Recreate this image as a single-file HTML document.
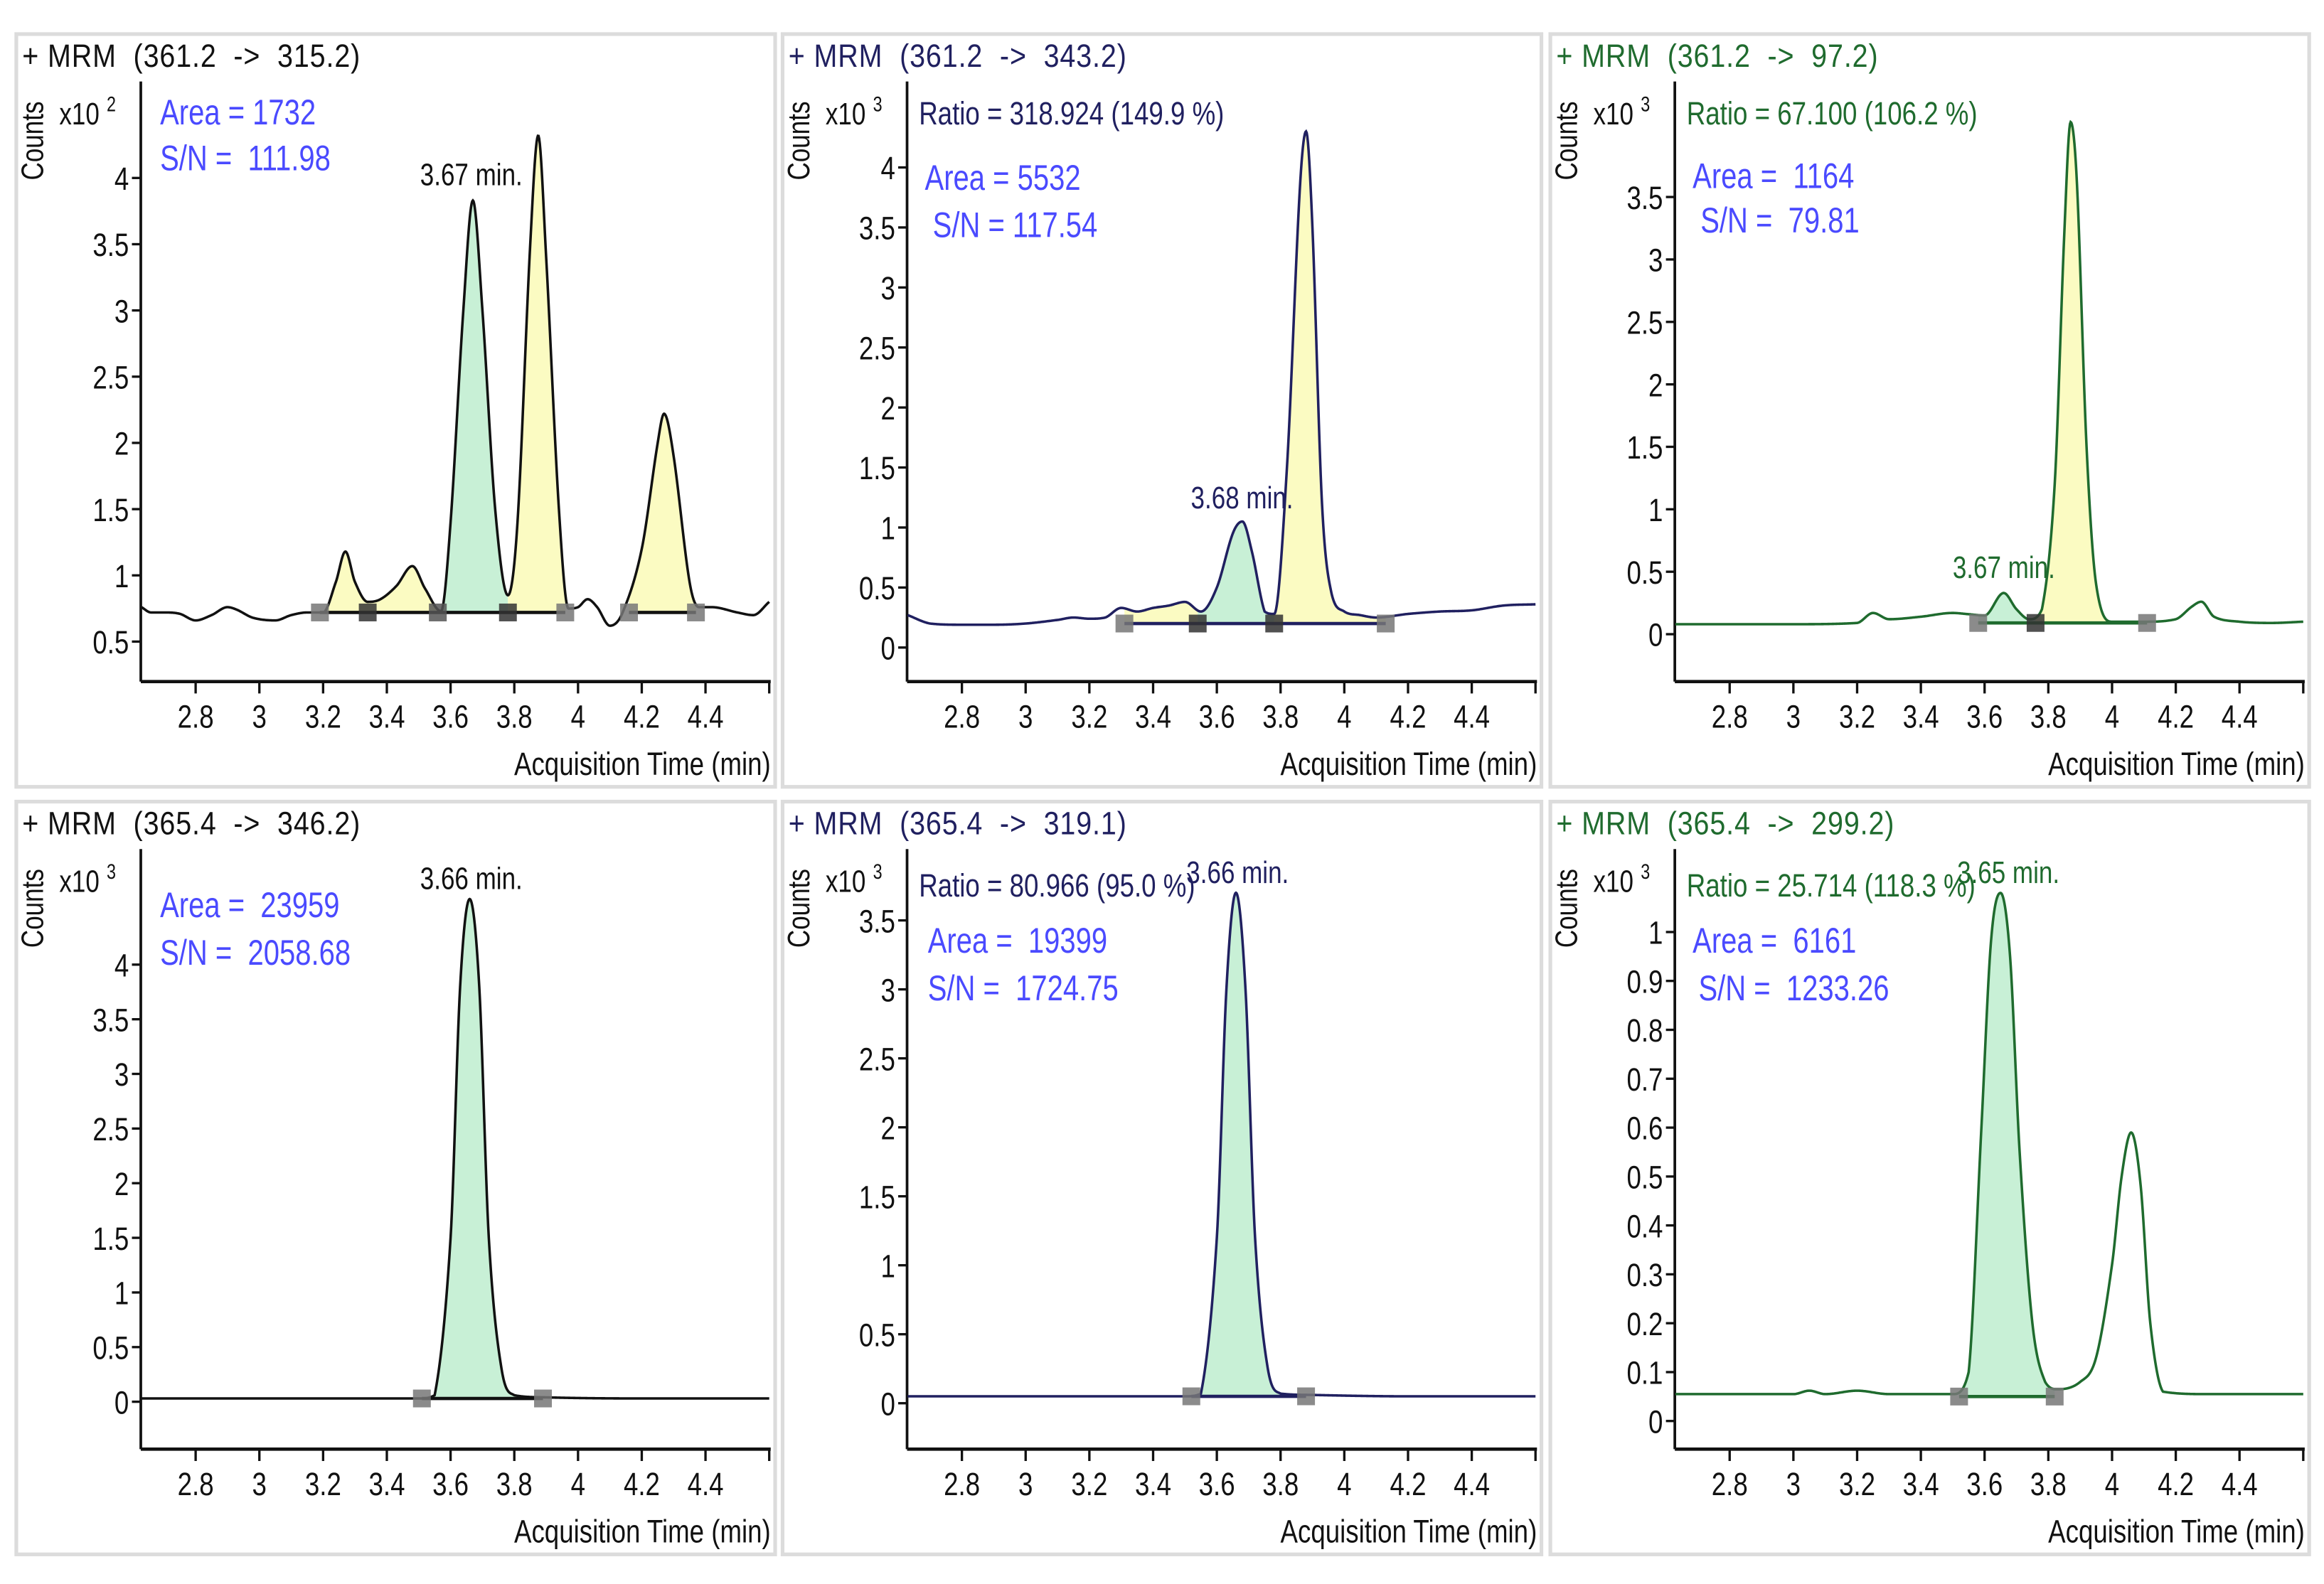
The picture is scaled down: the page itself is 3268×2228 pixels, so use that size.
<!DOCTYPE html>
<html><head><meta charset="utf-8">
<style>
html,body{margin:0;padding:0;background:#fff;}
svg{display:block;}
text{font-family:"Liberation Sans",sans-serif;white-space:pre;}
</style></head>
<body>
<svg id="chart" width="3268" height="2228" viewBox="0 0 1568 1069" xmlns="http://www.w3.org/2000/svg">
<rect x="0" y="0" width="1568" height="1069" fill="#fff"/>
</svg>
<script>
// ---- data (times in min, values in display units) ----
const xTicks = [2.8, 3, 3.2, 3.4, 3.6, 3.8, 4, 4.2, 4.4];
const xTickLabels = ["2.8","3","3.2","3.4","3.6","3.8","4","4.2","4.4"];

const p1Times = [2.63,2.66,2.7,2.75,2.8,2.85,2.9,2.93,2.98,3.05,3.1,3.15,3.2,3.24,3.27,3.3,3.34,3.38,3.43,3.48,3.52,3.57,3.6,3.64,3.67,3.7,3.74,3.78,3.81,3.85,3.875,3.9,3.94,3.97,4.0,4.03,4.06,4.1,4.14,4.2,4.25,4.27,4.3,4.35,4.38,4.42,4.5,4.55,4.6];
const p1Vals  = [0.76,0.72,0.72,0.71,0.66,0.70,0.76,0.74,0.68,0.66,0.70,0.72,0.72,0.95,1.18,0.95,0.80,0.82,0.92,1.07,0.90,0.73,1.4,3.0,3.83,3.0,1.5,0.85,1.4,3.5,4.32,3.4,1.5,0.75,0.76,0.82,0.76,0.62,0.72,1.2,2.0,2.22,1.9,0.95,0.76,0.76,0.72,0.70,0.80];
const p1Yticks = [0.5,1,1.5,2,2.5,3,3.5,4];
const p1Marks = [3.19,3.34,3.56,3.78,3.96,4.16,4.37];

const p2Times = [2.63,2.7,2.8,2.9,3.0,3.1,3.15,3.2,3.25,3.3,3.35,3.4,3.45,3.5,3.55,3.6,3.65,3.68,3.71,3.75,3.78,3.82,3.86,3.88,3.9,3.93,3.96,4.0,4.05,4.1,4.2,4.3,4.4,4.5,4.6];
const p2Vals  = [0.27,0.2,0.19,0.19,0.2,0.23,0.25,0.24,0.25,0.33,0.3,0.33,0.35,0.38,0.3,0.5,0.95,1.05,0.8,0.3,0.28,1.5,3.8,4.3,3.5,1.2,0.45,0.3,0.27,0.25,0.28,0.3,0.31,0.35,0.36];
const p2Yticks = [0,0.5,1,1.5,2,2.5,3,3.5,4];
const p2Marks = [3.31,3.54,3.78,4.13];

const p3Times = [2.63,2.8,3.0,3.2,3.25,3.3,3.4,3.5,3.55,3.6,3.66,3.7,3.74,3.78,3.82,3.85,3.87,3.89,3.92,3.95,4.0,4.1,4.2,4.25,4.28,4.32,4.4,4.5,4.6];
const p3Vals  = [0.08,0.08,0.08,0.09,0.17,0.12,0.14,0.17,0.16,0.15,0.33,0.2,0.12,0.2,1.2,3.2,4.1,3.6,1.5,0.4,0.1,0.1,0.12,0.22,0.26,0.14,0.1,0.09,0.1];
const p3Yticks = [0,0.5,1,1.5,2,2.5,3,3.5];
const p3Marks = [3.58,3.76,4.11];

const p4Times = [2.63,3.0,3.3,3.5,3.55,3.6,3.63,3.66,3.69,3.72,3.76,3.8,3.9,4.2,4.6];
const p4Vals  = [0.03,0.03,0.03,0.03,0.06,1.5,3.8,4.6,3.8,1.5,0.3,0.06,0.04,0.03,0.03];
const p4Yticks = [0,0.5,1,1.5,2,2.5,3,3.5,4];
const p4Marks = [3.51,3.89];

const p5Times = [2.63,3.0,3.3,3.5,3.55,3.6,3.63,3.66,3.69,3.72,3.76,3.8,3.9,4.2,4.6];
const p5Vals  = [0.05,0.05,0.05,0.05,0.07,1.2,3.0,3.7,3.0,1.2,0.25,0.07,0.06,0.05,0.05];
const p5Yticks = [0,0.5,1,1.5,2,2.5,3,3.5];
const p5Marks = [3.52,3.88];

const p6Times = [2.63,2.8,3.0,3.05,3.1,3.2,3.3,3.5,3.55,3.59,3.62,3.65,3.68,3.71,3.75,3.79,3.83,3.9,3.95,4.0,4.03,4.06,4.09,4.12,4.16,4.3,4.6];
const p6Vals  = [0.055,0.055,0.055,0.062,0.055,0.062,0.055,0.055,0.1,0.6,0.98,1.08,0.95,0.55,0.2,0.08,0.065,0.08,0.13,0.32,0.5,0.59,0.48,0.2,0.06,0.055,0.055];
const p6Yticks = [0,0.1,0.2,0.3,0.4,0.5,0.6,0.7,0.8,0.9,1];
const p6Marks = [3.52,3.82];

const NS = "http://www.w3.org/2000/svg";
const svg = document.getElementById('chart');
const SX = 0.8;
function mk(tag, attrs, parent){ const e=document.createElementNS(NS,tag); for(const k in attrs) e.setAttribute(k,attrs[k]); (parent||svg).appendChild(e); return e; }
function txt(s, attrs, parent, sx){
  const x=attrs.x, y=attrs.y; const a=Object.assign({},attrs); delete a.x; delete a.y;
  a.transform=`translate(${x},${y}) scale(${sx||SX},1)`;
  const e=mk('text',a,parent); e.textContent=s; return e;
}

function interp(ts, vs, t){
  if(t<=ts[0]) return vs[0];
  if(t>=ts[ts.length-1]) return vs[vs.length-1];
  let i=0; while(ts[i+1]<t) i++;
  const t0=ts[i],t1=ts[i+1],v0=vs[i],v1=vs[i+1],h=t1-t0;
  const d = (v1-v0)/h;
  const dp = i>0 ? (v0-vs[i-1])/(t0-ts[i-1]) : d;
  const dn = i+2<ts.length ? (vs[i+2]-v1)/(ts[i+2]-t1) : d;
  let m0 = (dp*d<=0) ? 0 : (i>0 ? (vs[i+1]-vs[i-1])/(ts[i+1]-ts[i-1]) : d);
  let m1 = (d*dn<=0) ? 0 : (i+2<ts.length ? (vs[i+2]-vs[i])/(ts[i+2]-ts[i]) : d);
  if(d!==0){ if(Math.abs(m0)>3*Math.abs(d)) m0=3*d; if(Math.abs(m1)>3*Math.abs(d)) m1=3*d; }
  const s=(t-t0)/h, s2=s*s, s3=s2*s;
  return (2*s3-3*s2+1)*v0+(s3-2*s2+s)*h*m0+(-2*s3+3*s2)*v1+(s3-s2)*h*m1;
}

const panels = [
 {ox:0,oy:0,title:"+ MRM  (361.2  ->  315.2)",tcol:"#111",col:"#111",exp:"2",zeroPx:433,zeroV:0.5,unit:89.4,yt:p1Yticks,ts:p1Times,vs:p1Vals,marks:p1Marks,
  base:0.72,fills:[[3.19,3.34,'y'],[3.34,3.56,'y'],[3.56,3.78,'g'],[3.78,3.96,'y'],[4.16,4.37,'y']],baseSegs:[[3.19,3.96],[4.16,4.37]],
  markCols:['#777','#333','#555','#333','#777','#777','#777'],
  peak:["3.67 min.",318,125],ratio:null,area:["Area = 1732",108,84],sn:["S/N =  111.98",108,115]},
 {ox:517,oy:0,title:"+ MRM  (361.2  ->  343.2)",tcol:"#202060",col:"#202060",exp:"3",zeroPx:437,zeroV:0,unit:81,yt:p2Yticks,ts:p2Times,vs:p2Vals,marks:p2Marks,
  base:0.2,fills:[[3.31,3.54,'y'],[3.54,3.78,'g'],[3.78,4.13,'y']],baseSegs:[[3.31,4.13]],
  markCols:['#777','#333','#333','#777'],
  peak:["3.68 min.",838,343],ratio:["Ratio = 318.924 (149.9 %)",620,84,"#202060"],area:["Area = 5532",624,128],sn:[" S/N = 117.54",624,160]},
 {ox:1035,oy:0,title:"+ MRM  (361.2  ->  97.2)",tcol:"#1f6b2e",col:"#1f6b2e",exp:"3",zeroPx:428,zeroV:0,unit:84.3,yt:p3Yticks,ts:p3Times,vs:p3Vals,marks:p3Marks,
  base:0.09,fills:[[3.58,3.76,'g'],[3.76,4.11,'y']],baseSegs:[[3.58,4.11]],
  markCols:['#777','#333','#777'],
  peak:["3.67 min.",1352,390],ratio:["Ratio = 67.100 (106.2 %)",1138,84,"#1f6b2e"],area:["Area =  1164",1142,127],sn:[" S/N =  79.81",1142,157]},
 {ox:0,oy:518,title:"+ MRM  (365.4  ->  346.2)",tcol:"#111",col:"#111",exp:"3",zeroPx:946,zeroV:0,unit:73.75,yt:p4Yticks,ts:p4Times,vs:p4Vals,marks:p4Marks,
  base:0.03,fills:[[3.51,3.89,'g']],baseSegs:[[3.51,3.89]],
  markCols:['#777','#777'],
  peak:["3.66 min.",318,600],ratio:null,area:["Area =  23959",108,619],sn:["S/N =  2058.68",108,651]},
 {ox:517,oy:518,title:"+ MRM  (365.4  ->  319.1)",tcol:"#202060",col:"#202060",exp:"3",zeroPx:947,zeroV:0,unit:93.1,yt:p5Yticks,ts:p5Times,vs:p5Vals,marks:p5Marks,
  base:0.05,fills:[[3.52,3.88,'g']],baseSegs:[[3.52,3.88]],
  markCols:['#777','#777'],
  peak:["3.66 min.",835,596],ratio:["Ratio = 80.966 (95.0 %)",620,605,"#202060"],area:["Area =  19399",626,643],sn:["S/N =  1724.75",626,675]},
 {ox:1035,oy:518,title:"+ MRM  (365.4  ->  299.2)",tcol:"#1f6b2e",col:"#1f6b2e",exp:"3",zeroPx:959,zeroV:0,unit:330,yt:p6Yticks,ts:p6Times,vs:p6Vals,marks:p6Marks,
  base:0.05,fills:[[3.52,3.82,'g']],baseSegs:[[3.52,3.82]],
  markCols:['#777','#777'],
  peak:["3.65 min.",1355,596],ratio:["Ratio = 25.714 (118.3 %)",1138,605,"#1f6b2e"],area:["Area =  6161",1142,643],sn:["S/N =  1233.26",1146,675]}
];

panels.forEach((p,idx)=>{
  const g = mk('g',{});
  
  
  const X = t => p.ox + 132 + (t-2.8)*215;
  const Y = v => p.zeroPx - (v - p.zeroV)*p.unit;
  const axisY = p.oy + 460, axisTop = p.oy + 55, axL = p.ox+95, axR = p.ox+520;
  const fr = mk('rect',{x:p.ox+11,y:p.oy+23,width:512,height:508,fill:'#fff',stroke:'#dcdcdc','stroke-width':2.5},g);
   
  const ti = txt(p.title,{x:p.ox+15,y:p.oy+45,'font-size':22,fill:p.tcol,'letter-spacing':0.5},g,0.86);
   
  const cy = mk('text',{'font-size':21,fill:'#111',transform:`translate(${p.ox+29},${p.oy+95}) rotate(-90) scale(${SX},1)`,'text-anchor':'middle'},g);
  cy.textContent="Counts";
   
  const ex = txt("x10",{x:p.ox+40,y:p.oy+84,'font-size':21,fill:'#111'},g);
   
  txt(p.exp,{x:p.ox+72,y:p.oy+75,'font-size':14,fill:'#111'},g);
  const ya = mk('line',{x1:axL,y1:axisTop,x2:axL,y2:axisY,stroke:'#111','stroke-width':1.8},g);
   
  const xa = mk('line',{x1:axL,y1:axisY,x2:axR,y2:axisY,stroke:'#111','stroke-width':2.2},g);
   
  xTicks.forEach((t,i)=>{
    mk('line',{x1:X(t),y1:axisY,x2:X(t),y2:axisY+8,stroke:'#111','stroke-width':1.6},g);
    const l = txt(xTickLabels[i],{x:X(t),y:axisY+31,'font-size':22,fill:'#111','text-anchor':'middle'},g);
     
  });
  mk('line',{x1:X(4.6),y1:axisY,x2:X(4.6),y2:axisY+8,stroke:'#111','stroke-width':1.6},g);
  const at = txt("Acquisition Time (min)",{x:axR,y:axisY+63,'font-size':22,fill:'#111','text-anchor':'end'},g);
   
  p.yt.forEach(v=>{
    const y=Y(v);
    mk('line',{x1:axL-6,y1:y,x2:axL,y2:y,stroke:'#111','stroke-width':1.6},g);
    const l = txt(String(v),{x:axL-8,y:y+8,'font-size':22,fill:'#111','text-anchor':'end'},g);
     
  });
  p.fills.forEach(f=>{
    let d=`M${X(f[0])},${Y(p.base)}`;
    for(let t=f[0]; t<=f[1]+1e-9; t+=0.002) d+=` L${X(t).toFixed(2)},${Y(Math.max(interp(p.ts,p.vs,t),p.base)).toFixed(2)}`;
    d+=` L${X(f[1])},${Y(p.base)} Z`;
    const fe = mk('path',{d:d,fill:f[2]==='y'?'#fbfbc2':'#c8f0d6',stroke:'none'},g);
     
  });
  p.baseSegs.forEach(s=>{
    const b = mk('line',{x1:X(s[0]),y1:Y(p.base),x2:X(s[1]),y2:Y(p.base),stroke:p.col,'stroke-width':2.2},g);
     
  });
  let d='';
  for(let t=2.63; t<=4.6+1e-9; t+=0.002){ d+=(d?' L':'M')+X(t).toFixed(2)+','+Y(interp(p.ts,p.vs,t)).toFixed(2); }
  const tr = mk('path',{d:d,fill:'none',stroke:p.col,'stroke-width':1.7},g);
   
  p.marks.forEach((t,i)=>{
    const m = mk('rect',{x:X(t)-6,y:Y(p.base)-6,width:12,height:12,fill:p.markCols[i],opacity:0.85},g);
     
  });
  const pk = txt(p.peak[0],{x:p.peak[1],y:p.peak[2],'font-size':21,fill:p.col,'text-anchor':'middle'},g);
   
  if(p.ratio){
    const r = txt(p.ratio[0],{x:p.ratio[1],y:p.ratio[2],'font-size':22,fill:p.ratio[3]},g);
     
  }
  const a = txt(p.area[0],{x:p.area[1],y:p.area[2],'font-size':24,fill:'#4a4aff'},g);
   
  const sn = txt(p.sn[0],{x:p.sn[1],y:p.sn[2],'font-size':24,fill:'#4a4aff'},g);
   
});
</script>
</body></html>
